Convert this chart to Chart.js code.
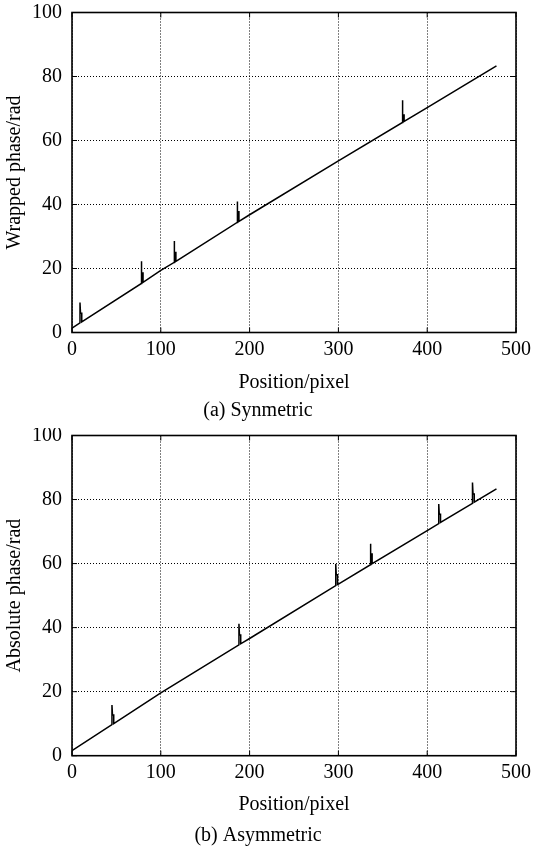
<!DOCTYPE html>
<html>
<head>
<meta charset="utf-8">
<script src="https://cdn.jsdelivr.net/npm/chart.js@4.4.0/dist/chart.umd.min.js"></script>
<style>
  body { margin: 0; background: #fff; }
  .panel { position: absolute; left: 0; width: 537px; height: 428px; }
</style>
</head>
<body>
<div class="panel" style="top:0"><canvas id="chartA" width="537" height="428"></canvas></div>
<div class="panel" style="top:428px"><canvas id="chartB" width="537" height="428"></canvas></div>
<script>
// tick labels
const xTicks = [0, 100, 200, 300, 400, 500];
const yTicks = [0, 20, 40, 60, 80, 100];

// (a) symmetric: main phase line vertices
const lineAX = [0, 100, 200, 300, 400, 478];
const lineAY = [1.4, 19.4, 36.8, 53.6, 70.3, 83.3];
// spikes: position, base, step, top
const spikeAX = [9, 78, 115, 186, 372];
const spikeABase = [3, 15.3, 21.9, 34.4, 65.6];
const spikeAStep = [6, 18.6, 25, 37.7, 68];
const spikeATop = [9.4, 22.3, 28.6, 40.9, 72.6];

// (b) asymmetric
const lineBX = [0, 100, 200, 300, 400, 478];
const lineBY = [1.6, 19.6, 36.6, 53.6, 70.3, 83.3];
const spikeBX = [45, 188, 297, 336, 413, 451];
const spikeBBase = [9.7, 34.6, 53.1, 59.6, 72.5, 78.8];
const spikeBStep = [12.7, 37.7, 56.5, 63, 75.4, 81.7];
const spikeBTop = [15.8, 41.2, 59.9, 66.2, 78.6, 85.3];

const FONT = "'Liberation Serif', 'Times New Roman', serif";

function buildPath(lx, ly, sx, sBase, sStep, sTop) {
  const pts = lx.map((x, i) => ({ x: x, y: ly[i] }));
  sx.forEach((x, i) => {
    pts.push({ x: x, y: sBase[i] });
    pts.push({ x: x, y: sTop[i] });
    pts.push({ x: x + 0.6, y: sStep[i] });
    pts.push({ x: x + 2, y: sStep[i] });
    pts.push({ x: x + 2, y: sBase[i] + 0.35 });
  });
  return pts.sort((a, b) => a.x - b.x);
}

// frame box + inward ticks like the original plot
const framePlugin = {
  id: "frame",
  afterDatasetsDraw(chart) {
    const a = chart.chartArea;
    const ctx = chart.ctx;
    const xs = chart.scales.x, ys = chart.scales.y;
    ctx.save();
    ctx.strokeStyle = "#000";
    ctx.lineWidth = 1;
    ctx.beginPath();
    xTicks.forEach((v) => {
      const px = xs.getPixelForValue(v);
      ctx.moveTo(px, a.bottom); ctx.lineTo(px, a.bottom - 5);
      ctx.moveTo(px, a.top); ctx.lineTo(px, a.top + 5);
    });
    yTicks.forEach((v) => {
      const py = ys.getPixelForValue(v);
      ctx.moveTo(a.left, py); ctx.lineTo(a.left + 5, py);
      ctx.moveTo(a.right, py); ctx.lineTo(a.right - 5, py);
    });
    ctx.stroke();
    ctx.lineWidth = 1.6;
    ctx.strokeRect(a.left, a.top, a.right - a.left, a.bottom - a.top);
    ctx.restore();
  },
};

function makeChart(id, data, yTitle, caption, opt) {
  const ctx = document.getElementById(id).getContext("2d");
  return new Chart(ctx, {
    type: "scatter",
    data: {
      datasets: [
        {
          data: data,
          showLine: true,
          borderColor: "#000",
          borderWidth: 1.5,
          pointRadius: 0,
          tension: 0,
        },
      ],
    },
    options: {
      responsive: false,
      animation: false,
      devicePixelRatio: 1,
      layout: { padding: { top: opt.top, right: 21, left: 0, bottom: 0 } },
      plugins: {
        legend: { display: false },
        tooltip: { enabled: false },
        title: {
          display: true,
          position: "bottom",
          text: caption,
          color: "#000",
          font: { family: FONT, size: 20, weight: "normal" },
          padding: { top: 0, bottom: opt.capPad },
        },
      },
      scales: {
        x: {
          type: "linear",
          min: 0,
          max: 500,
          afterBuildTicks: (s) => { s.ticks = xTicks.map((v) => ({ value: v })); },
          ticks: { color: "#000", font: { family: FONT, size: 20 }, padding: 5, maxRotation: 0 },
          grid: { color: "#000", lineWidth: 1, drawTicks: false },
          border: { display: false, dash: [1, 2] },
          title: {
            display: true,
            text: "Position/pixel",
            color: "#000",
            font: { family: FONT, size: 20 },
            padding: { top: 0, bottom: opt.xTitlePad },
          },
          afterFit: (s) => { s.height = opt.xHeight; s.paddingLeft = 0; s.paddingRight = 0; },
        },
        y: {
          min: 0,
          max: 100,
          afterBuildTicks: (s) => { s.ticks = yTicks.map((v) => ({ value: v })); },
          ticks: { color: "#000", font: { family: FONT, size: 20 }, padding: 10 },
          grid: { color: "#000", lineWidth: 1, drawTicks: false },
          border: { display: false, dash: [1, 2] },
          title: {
            display: true,
            text: yTitle,
            color: "#000",
            font: { family: FONT, size: 20 },
            padding: { top: 3, bottom: 0 },
          },
          afterFit: (s) => { s.width = 72; s.paddingTop = 0; s.paddingBottom = 0; },
        },
      },
    },
    plugins: [framePlugin],
  });
}

makeChart("chartA", buildPath(lineAX, lineAY, spikeAX, spikeABase, spikeAStep, spikeATop),
  "Wrapped phase/rad", "(a) Synmetric",
  { top: 12.5, capPad: 5, xTitlePad: 4, xHeight: 66.5 });

makeChart("chartB", buildPath(lineBX, lineBY, spikeBX, spikeBBase, spikeBStep, spikeBTop),
  "Absolute phase/rad", "(b) Asymmetric",
  { top: 7.5, capPad: 8, xTitlePad: 7, xHeight: 68.3 });
</script>
</body>
</html>
